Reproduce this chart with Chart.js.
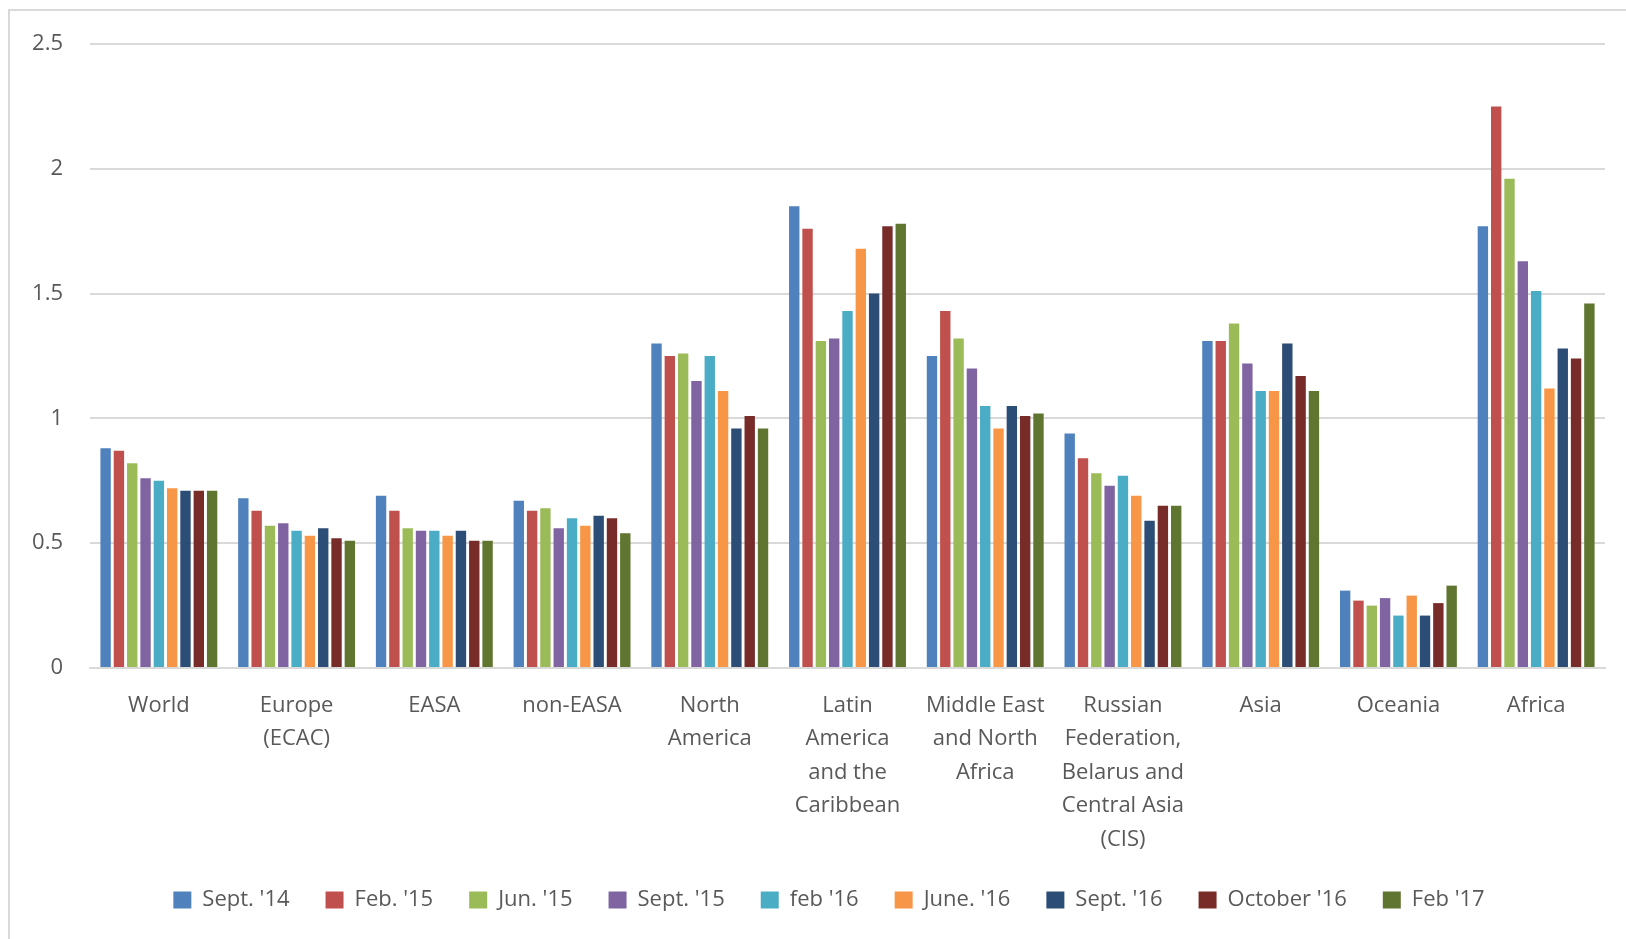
<!DOCTYPE html>
<html>
<head>
<meta charset="utf-8">
<script src="https://cdn.jsdelivr.net/npm/chart.js@4.4.1/dist/chart.umd.min.js"></script>
<style>
  html, body { margin: 0; padding: 0; background: #fff; }
  #wrap { position: absolute; left: 0; top: 0; width: 1626px; height: 939px; }
  #frame { position: absolute; left: 8px; top: 9px; right: -4px; bottom: -4px;
           border-left: 2px solid #d9d9d9; border-top: 2px solid #d9d9d9; pointer-events: none; }
</style>
</head>
<body>
<div id="wrap">
  <canvas id="bar-chartRegions"></canvas>
  <div id="frame"></div>
</div>
<script>
const regions = [
  'World', ['Europe', '(ECAC)'], 'EASA', 'non-EASA', ['North', 'America'],
  ['Latin', 'America', 'and the', 'Caribbean'], ['Middle East', 'and North', 'Africa'],
  ['Russian', 'Federation,', 'Belarus and', 'Central Asia', '(CIS)'],
  'Asia', 'Oceania', 'Africa'
];

const seriesNames = ["Sept. '14", "Feb. '15", "Jun. '15", "Sept. '15", "feb '16", "June. '16", "Sept. '16", "October '16", "Feb '17"];

const sept14 = [0.88, 0.68, 0.69, 0.67, 1.30, 1.85, 1.25, 0.94, 1.31, 0.31, 1.77];
const feb15  = [0.87, 0.63, 0.63, 0.63, 1.25, 1.76, 1.43, 0.84, 1.31, 0.27, 2.25];
const jun15  = [0.82, 0.57, 0.56, 0.64, 1.26, 1.31, 1.32, 0.78, 1.38, 0.25, 1.96];
const sept15 = [0.76, 0.58, 0.55, 0.56, 1.15, 1.32, 1.20, 0.73, 1.22, 0.28, 1.63];
const feb16  = [0.75, 0.55, 0.55, 0.60, 1.25, 1.43, 1.05, 0.77, 1.11, 0.21, 1.51];
const june16 = [0.72, 0.53, 0.53, 0.57, 1.11, 1.68, 0.96, 0.69, 1.11, 0.29, 1.12];
const sept16 = [0.71, 0.56, 0.55, 0.61, 0.96, 1.50, 1.05, 0.59, 1.30, 0.21, 1.28];
const oct16  = [0.71, 0.52, 0.51, 0.60, 1.01, 1.77, 1.01, 0.65, 1.17, 0.26, 1.24];
const feb17  = [0.71, 0.51, 0.51, 0.54, 0.96, 1.78, 1.02, 0.65, 1.11, 0.33, 1.46];

const yTicks = [0, 0.5, 1, 1.5, 2, 2.5];

const seriesValues = [sept14, feb15, jun15, sept15, feb16, june16, sept16, oct16, feb17];
const colors = ['#4F81BD', '#C0504D', '#9BBB59', '#8064A2', '#4BACC6', '#F79646', '#2C4D75', '#772C2A', '#5F7530'];

const textColor = '#595959';
const gridColor = '#d9d9d9';
const fontFamily = '"Open Sans", "Liberation Sans", sans-serif';

// legend in the original sits a bit right of centre
const shiftLegend = {
    id: 'shiftLegend',
    afterLayout(chart) {
        chart.legend.left += 22;
        chart.legend.right += 22;
    }
};

const ctx = document.getElementById('bar-chartRegions').getContext('2d');
const chart = new Chart(ctx, {
    type: 'bar',
    data: {
        labels: regions,
        datasets: seriesNames.map((name, i) => ({
            label: name,
            data: seriesValues[i],
            backgroundColor: colors[i],
            borderWidth: 0,
            categoryPercentage: 0.87,
            barPercentage: 0.78
        }))
    },
    options: {
        responsive: true,
        maintainAspectRatio: false,
        animation: false,
        layout: { padding: { left: 9, right: 21, top: 44, bottom: 18 } },
        plugins: {
            tooltip: { enabled: false },
            legend: {
                position: 'bottom',
                labels: {
                    color: textColor,
                    font: { family: fontFamily, size: 22 },
                    boxWidth: 18,
                    boxHeight: 17,
                    padding: 36
                }
            }
        },
        scales: {
            x: {
                grid: { display: false, drawTicks: false },
                border: { display: true, color: gridColor, width: 2 },
                ticks: {
                    color: textColor,
                    font: { family: fontFamily, size: 22, lineHeight: 1.52 },
                    padding: 21,
                    maxRotation: 0,
                    autoSkip: false
                },
                afterFit: s => { s.height = 185; }
            },
            y: {
                min: 0,
                max: 2.5,
                afterBuildTicks: s => { s.ticks = yTicks.map(v => ({ value: v })); },
                grid: { color: gridColor, lineWidth: 2, drawTicks: false },
                border: { display: false },
                ticks: {
                    color: textColor,
                    font: { family: fontFamily, size: 22 },
                    padding: 27,
                    callback: v => String(v)
                },
                afterFit: s => { s.width = 81; }
            }
        }
    },
    plugins: [shiftLegend]
});
</script>
</body>
</html>
